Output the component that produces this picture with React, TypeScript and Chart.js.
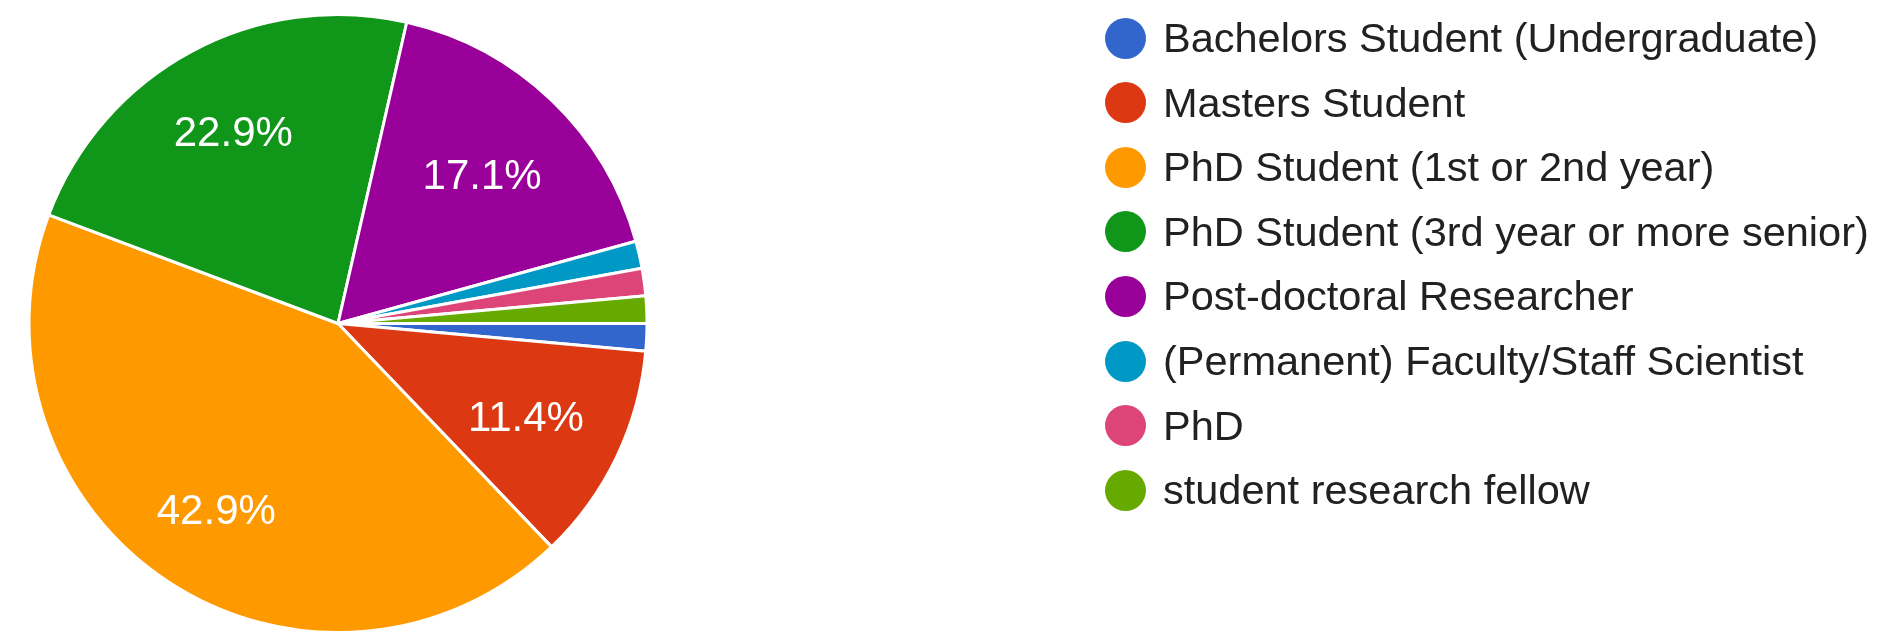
import React, { useEffect, useRef } from "react";
import { Chart, registerables } from "chart.js";

Chart.register(...registerables);

const categories: string[] = [
  "Bachelors Student (Undergraduate)",
  "Masters Student",
  "PhD Student (1st or 2nd year)",
  "PhD Student (3rd year or more senior)",
  "Post-doctoral Researcher",
  "(Permanent) Faculty/Staff Scientist",
  "PhD",
  "student research fellow",
];

const responses: number[] = [1, 8, 30, 16, 12, 1, 1, 1];

const colors: string[] = [
  "#3366cc",
  "#dc3912",
  "#ff9900",
  "#109618",
  "#990099",
  "#0099c6",
  "#dd4477",
  "#66aa00",
];

const FONT = "'Liberation Sans', Arial, Helvetica, sans-serif";

const sliceLabels = {
  id: "sliceLabels",
  afterDatasetsDraw(chart: any) {
    const ctx = chart.ctx;
    const meta = chart.getDatasetMeta(0);
    const data = chart.data.datasets[0].data as number[];
    const total = data.reduce((a, b) => a + b, 0);
    ctx.save();
    ctx.fillStyle = "#ffffff";
    ctx.font = `42px ${FONT}`;
    ctx.textAlign = "center";
    ctx.textBaseline = "middle";
    meta.data.forEach((arc: any, i: number) => {
      const pct = (data[i] / total) * 100;
      if (pct < 5) return;
      const { x, y, startAngle, endAngle, outerRadius } = arc.getProps(
        ["x", "y", "startAngle", "endAngle", "outerRadius"],
        true
      );
      const mid = (startAngle + endAngle) / 2;
      const r = outerRadius * (pct >= 20 ? 0.715 : 0.675);
      ctx.fillText(`${pct.toFixed(1)}%`, x + Math.cos(mid) * r, y + Math.sin(mid) * r + 5);
    });
    ctx.restore();
  },
};

export default function App() {
  const canvasRef = useRef<HTMLCanvasElement | null>(null);

  useEffect(() => {
    const canvas = canvasRef.current;
    if (!canvas) return;
    const chart = new Chart(canvas, {
      type: "pie",
      data: {
        labels: categories,
        datasets: [
          {
            data: responses,
            backgroundColor: colors,
            borderColor: "#ffffff",
            borderWidth: 3,
          },
        ],
      },
      options: {
        responsive: false,
        animation: false,
        devicePixelRatio: 1,
        rotation: 90,
        layout: {
          padding: { left: 27, top: 13, right: 1880 - 649, bottom: 0 },
        },
        plugins: {
          legend: { display: false },
          tooltip: { enabled: false },
        },
      },
      plugins: [sliceLabels],
    });
    return () => chart.destroy();
  }, []);

  const rowTop = 38;
  const rowGap = 64.6;

  return (
    <div style={{ position: "absolute", left: 0, top: 0, width: 1880, height: 634, background: "#ffffff" }}>
      <canvas ref={canvasRef} width={1880} height={634} style={{ display: "block" }} />
      {categories.map((c, i) => (
        <div
          key={c}
          style={{
            position: "absolute",
            left: 1105,
            top: rowTop + i * rowGap - 25,
            height: 50,
            display: "flex",
            alignItems: "center",
            whiteSpace: "nowrap",
          }}
        >
          <span
            style={{
              display: "inline-block",
              width: 41,
              height: 41,
              borderRadius: "50%",
              background: colors[i],
              marginRight: 17,
              flex: "none",
            }}
          />
          <span style={{ font: `41.5px ${FONT}`, color: "#212121", lineHeight: "50px" }}>{c}</span>
        </div>
      ))}
    </div>
  );
}
